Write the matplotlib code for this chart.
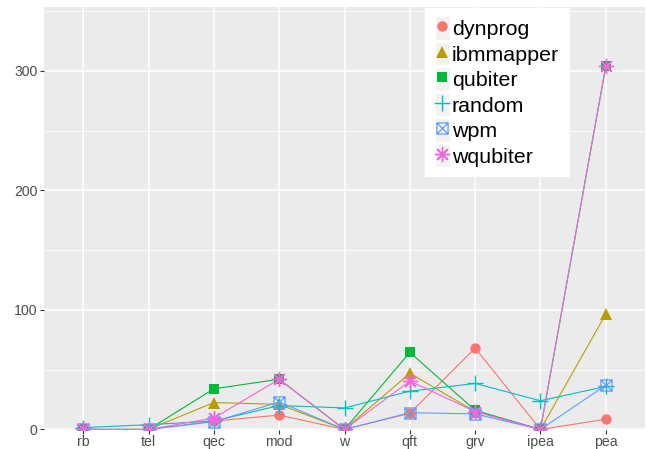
import matplotlib
matplotlib.use("Agg")
import matplotlib.pyplot as plt
import numpy as np
from matplotlib.path import Path
from matplotlib.lines import Line2D
from matplotlib.patches import Rectangle
from matplotlib.legend_handler import HandlerLine2D

categories = ["rb", "tel", "qec", "mod", "w", "qft", "grv", "ipea", "pea"]
dynprog   = [0, 0, 7, 12, 0, 13.5, 68, 0, 8.5]
ibmmapper = [0, 0, 22.5, 21, 0, 47, 15, 0, 96.5]
qubiter   = [0, 0, 34, 42, 0, 64.5, 16, 0, 304]
random_   = [1.5, 4, 7, 20, 18, 32, 38.5, 24, 36]
wpm       = [0, 0, 6.5, 23, 0, 14, 13, 0, 37]
wqubiter  = [0, 0, 9.5, 42, 0, 40.5, 15, 0, 304]

series_names = ["dynprog", "ibmmapper", "qubiter", "random", "wpm", "wqubiter"]
series_vals = [dynprog, ibmmapper, qubiter, random_, wpm, wqubiter]
colors = ["#F8766D", "#B79F00", "#00BA38", "#00BFC4", "#619CFF", "#F564E3"]

sqx = Path([(-1, -1), (1, -1), (1, 1), (-1, 1), (-1, -1), (-1, -1), (1, 1), (-1, 1), (1, -1)],
           [Path.MOVETO, Path.LINETO, Path.LINETO, Path.LINETO, Path.CLOSEPOLY,
            Path.MOVETO, Path.LINETO, Path.MOVETO, Path.LINETO])
styles = [
    dict(marker="o", ms=7.5, mfc=None, mew=0),
    dict(marker="^", ms=8.5, mfc=None, mew=0),
    dict(marker="s", ms=7.7, mfc=None, mew=0),
    dict(marker="+", ms=11, mfc=None, mew=1.0),
    dict(marker=sqx, ms=8, mfc="none", mew=0.9),
    dict(marker=(8, 2, 0), ms=11, mfc=None, mew=1.0),
]

W, H = 646, 449
fig = plt.figure(figsize=(W / 100, H / 100), dpi=100)
L, R, T, B = 44, 645, 7, 429.8
ax = fig.add_axes([L / W, (H - B) / H, (R - L) / W, (B - T) / H])
ax.set_facecolor("#EBEBEB")
for s in ax.spines.values():
    s.set_visible(False)

x = np.arange(len(categories))
for vals, c in zip(series_vals, colors):
    ax.plot(x, vals, color=c, lw=0.8, zorder=3)

handles = []
for name, vals, c, st in zip(series_names, series_vals, colors, styles):
    mfc = c if st["mfc"] is None else st["mfc"]
    ax.plot(x, vals, linestyle="none", marker=st["marker"], ms=st["ms"],
            mfc=mfc, mec=c, mew=st["mew"], zorder=4)
    handles.append(Line2D([], [], linestyle="none", marker=st["marker"], ms=st["ms"],
                          mfc=mfc, mec=c, mew=st["mew"], label=name))

ax.set_xlim(-0.6, 8.6)
ax.set_ylim(-0.3, 353.5)
ax.set_xticks(x)
ax.set_xticklabels(categories)
ax.set_yticks([0, 100, 200, 300])
ax.set_yticks([50, 150, 250, 350], minor=True)
ax.grid(True, which="major", color="white", lw=1.1, zorder=0)
ax.grid(True, which="minor", axis="y", color="white", lw=0.55, zorder=0)
ax.set_axisbelow(True)
ax.tick_params(axis="both", which="major", length=3, width=0.8, color="#333333",
               labelcolor="#4D4D4D", labelsize=10.2, pad=1.5)
ax.tick_params(axis="x", which="major", pad=0.6)
ax.tick_params(axis="both", which="minor", length=0)
for lab in ax.get_xticklabels() + ax.get_yticklabels():
    lab.set_family("Liberation Sans")


class KeyBG(HandlerLine2D):
    def create_artists(self, legend, orig_handle, xdescent, ydescent, width, height, fontsize, trans):
        arts = super().create_artists(legend, orig_handle, xdescent, ydescent, width, height, fontsize, trans)
        r = Rectangle((-xdescent, -ydescent - 1), width, height + 2, facecolor="#F2F2F2",
                      edgecolor="white", lw=1.0, transform=trans)
        return [r] + list(arts)


leg = ax.legend(handles=handles, loc="upper left", bbox_to_anchor=(0.634, 0.998),
                borderaxespad=0, frameon=True, fancybox=False, facecolor="white",
                edgecolor="white", framealpha=1, prop={"family": "Liberation Sans", "size": 15.4},
                handlelength=0.7, handleheight=1.12, handletextpad=0.1, labelspacing=0.18,
                borderpad=0.45, handler_map={Line2D: KeyBG()})
leg.set_zorder(5)

fig.savefig("out.png", dpi=100)
